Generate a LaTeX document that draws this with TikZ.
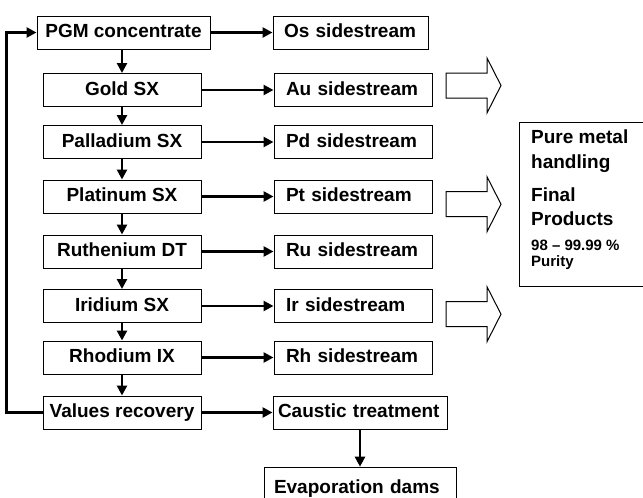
\documentclass[tikz,border=0pt]{standalone}
\usepackage{fontspec}
\setmainfont{Liberation Sans}
\usetikzlibrary{arrows.meta}
\begin{document}
\begin{tikzpicture}[x=1pt,y=-1pt,
  every node/.style={font=\fontsize{19}{22}\selectfont\bfseries},
  lbox/.style={draw,line width=1pt,minimum width=158pt,minimum height=33pt,inner sep=0pt,text height=14pt,text depth=4pt,align=center},
  rbox/.style={draw,line width=1pt,minimum height=33pt,inner ysep=0pt,inner xsep=12pt,text width=134pt,text height=14pt,text depth=4pt,align=left},
  arr/.style={line width=2.5pt,-{Triangle[length=10pt,width=10pt]}},
  blk/.style={draw,line width=1pt,fill=white,line join=miter},
  txt/.style={anchor=base west,inner sep=0pt},
  small/.style={font=\fontsize{15}{17}\selectfont\bfseries}
]
\useasboundingbox (0,0) rectangle (643,498);
\clip (0,0) rectangle (643,498);
\fill[white] (0,0) rectangle (643,498);

% left column
\node[lbox,minimum width=173pt] (pgm) at (123.5,32.5) {PGM concentrate};
\node[lbox] (gold) at (122,90) {Gold SX};
\node[lbox] (pd) at (122,142) {Palladium SX};
\node[lbox] (pt) at (122,196.5) {Platinum SX};
\node[lbox] (ru) at (122,251.5) {Ruthenium DT};
\node[lbox] (ir) at (122,306) {Iridium SX};
\node[lbox] (rh) at (122,357.5) {Rhodium IX};
\node[lbox] (val) at (122,412.5) {Values recovery};

% right column
\node[rbox,text width=133pt,inner xsep=11pt] (os) at (350.5,32.5) {Os sidestream};
\node[rbox] (au) at (353,90) {Au sidestream};
\node[rbox] (pds) at (353,142) {Pd sidestream};
\node[rbox] (pts) at (353,196.5) {Pt sidestream};
\node[rbox] (rus) at (353,251.5) {Ru sidestream};
\node[rbox] (irs) at (353,306) {Ir sidestream};
\node[rbox] (rhs) at (353,357.5) {Rh sidestream};
\node[rbox,inner xsep=5pt,text width=164pt] (caus) at (360,412.5) {Caustic treatment};
\node[rbox,anchor=north,inner xsep=10pt,text width=172pt,minimum height=43pt] (evap) at (360,466.7) {Evaporation dams};

% vertical flow
\draw[arr] (pgm.south -| gold.north) -- (gold.north);
\draw[arr] (gold.south) -- (pd.north);
\draw[arr] (pd.south) -- (pt.north);
\draw[arr] (pt.south) -- (ru.north);
\draw[arr] (ru.south) -- (ir.north);
\draw[arr] (ir.south) -- (rh.north);
\draw[arr] (rh.south) -- (val.north);

% horizontal flow
\draw[arr] (pgm.east) -- (os.west);
\draw[arr] (gold.east) -- (au.west);
\draw[arr] (pd.east) -- (pds.west);
\draw[arr] (pt.east) -- (pts.west);
\draw[arr] (ru.east) -- (rus.west);
\draw[arr] (ir.east) -- (irs.west);
\draw[arr] (rh.east) -- (rhs.west);
\draw[arr] (val.east) -- (caus.west);
\draw[arr] (caus.south) -- (evap.north);

% recycle loop
\draw[arr] (val.west) -- ++(-36,0) |- (pgm.west);

% block arrows
\foreach \cy in {85.5,204.2,314.2}{
  \draw[blk] (446,\cy-12.5) -- (487,\cy-12.5) -- (487,\cy-27.5) -- (501,\cy)
    -- (487,\cy+27.5) -- (487,\cy+12.5) -- (446,\cy+12.5) -- cycle;
}

% final products box
\node[draw,line width=1pt,anchor=north west,minimum width=150pt,minimum height=163.5pt,inner sep=0pt] (fin) at (519,122) {};
\node[txt] (t1) at (531,143.5) {Pure metal};
\node[txt] (t2) at (531,168.5) {handling};
\node[txt] (t3) at (531,201.5) {Final};
\node[txt] (t4) at (531,225) {Products};
\node[txt,small] (t5) at (531,250) {98 – 99.99 \%};
\node[txt,small] (t6) at (531,266.5) {Purity};
\end{tikzpicture}
\end{document}
